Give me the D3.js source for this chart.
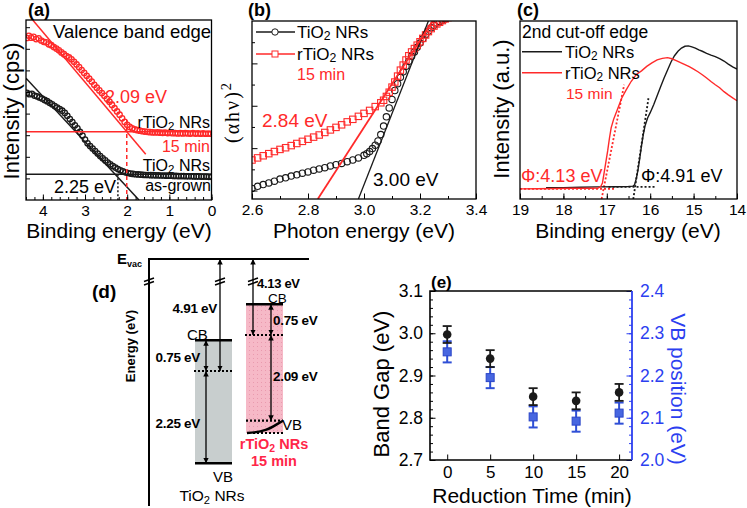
<!DOCTYPE html>
<html lang="en">
<head>
<meta charset="UTF-8">
<title>TiO2 NRs band structure</title>
<script src="https://cdn.jsdelivr.net/npm/d3@7"></script>
<style>
    body{margin:0;background:#fff;}
    svg{display:block;font-family:"Liberation Sans",Arial,sans-serif;}
</style>
</head>
<body>
<svg width="747" height="508"></svg>
<script>
// ---------- (a) valence band edge, [binding energy eV, intensity] ----------
var aRed = [[4.38,90.0],[4.33,91.2],[4.28,90.2],[4.22,90.6],[4.16,89.4],[4.10,89.8],[4.04,88.6],[3.98,87.9],[3.92,87.6],[3.86,86.5],
    [3.80,86.0],[3.74,85.0],[3.68,84.1],[3.62,83.2],[3.56,82.0],[3.50,81.0],[3.44,80.0],[3.38,79.2],[3.32,78.2],[3.26,76.8],
    [3.20,75.3],[3.14,73.8],[3.08,72.2],[3.02,70.6],[2.96,69.0],[2.90,67.4],[2.84,65.8],[2.78,64.0],[2.72,62.4],[2.66,60.9],
    [2.60,59.4],[2.54,57.9],[2.48,56.2],[2.42,54.6],[2.36,52.8],[2.30,51.0],[2.24,49.2],[2.18,47.4],[2.12,45.4],[2.06,43.4],
    [2.00,41.8],[1.94,40.6],[1.88,39.8],[1.82,39.2],[1.76,38.8],[1.70,38.5],[1.64,38.2],[1.58,38.0],[1.52,37.9],[1.46,37.7],
    [1.40,37.6],[1.34,37.5],[1.28,37.6],[1.22,37.4],[1.16,37.3],[1.10,37.4],[1.04,37.2],[0.98,37.3],[0.92,37.1],[0.86,37.2],
    [0.80,37.0],[0.74,37.1],[0.68,37.0],[0.62,37.2],[0.56,37.0],[0.50,36.9],[0.44,37.1],[0.38,36.9],[0.32,37.0],[0.26,36.8],
    [0.20,37.0],[0.14,36.8],[0.08,36.9],[0.02,36.8]];
var aBlack = [[4.38,59.5],[4.32,58.8],[4.26,59.0],[4.20,58.0],[4.14,57.6],[4.08,57.0],[4.02,56.4],[3.96,55.6],[3.90,54.9],[3.84,54.0],
    [3.78,53.2],[3.72,52.2],[3.66,51.4],[3.60,50.5],[3.54,49.6],[3.48,48.4],[3.42,46.8],[3.36,45.0],[3.30,43.3],[3.24,41.5],
    [3.18,39.8],[3.12,37.8],[3.06,35.8],[3.00,33.6],[2.94,31.5],[2.88,30.0],[2.82,28.6],[2.76,27.2],[2.70,25.8],[2.64,24.4],
    [2.58,23.2],[2.52,22.0],[2.46,20.8],[2.40,19.8],[2.34,18.9],[2.28,18.0],[2.22,17.2],[2.16,16.5],[2.10,15.9],[2.04,15.4],
    [1.98,15.0],[1.92,14.7],[1.86,14.5],[1.80,14.3],[1.74,14.2],[1.68,14.1],[1.62,14.0],[1.56,13.9],[1.50,13.9],[1.44,13.8],
    [1.38,13.8],[1.32,13.7],[1.26,13.7],[1.20,13.6],[1.14,13.6],[1.08,13.5],[1.02,13.5],[0.96,13.5],[0.90,13.4],[0.84,13.4],
    [0.78,13.3],[0.72,13.3],[0.66,13.3],[0.60,13.2],[0.54,13.2],[0.48,13.2],[0.42,13.1],[0.36,13.1],[0.30,13.1],[0.24,13.0],
    [0.18,13.0],[0.12,13.0],[0.06,12.9],[0.00,12.9]];
var aFitRed = [[4.24,100],[1.56,25.4]];
var aFitBlack = [[4.40,67.7],[1.72,0]];
var aBaseRed = 37.9, aBaseBlack = 14.3;
var aEdgeRed = [2.01, 44.4], aEdgeBlack = [2.22, 14.3];   // [energy, top of drop line]

// ---------- (b) Tauc plot, [photon energy eV, (ahv)^2] ----------
var bBlack = [[2.60,0.05],[2.62,0.10],[2.64,0.14],[2.66,0.18],[2.68,0.22],[2.70,0.27],[2.72,0.30],[2.74,0.34],[2.76,0.37],[2.78,0.41],
    [2.80,0.44],[2.82,0.48],[2.84,0.51],[2.86,0.54],[2.88,0.58],[2.90,0.61],[2.92,0.64],[2.94,0.68],[2.96,0.72],[2.98,0.77],
    [3.00,0.83],[3.01,0.87],[3.02,0.92],[3.03,0.99],[3.04,1.07],[3.05,1.17],[3.06,1.32],[3.07,1.52],[3.08,1.74],[3.09,1.95],
    [3.10,2.15],[3.11,2.36],[3.12,2.52],[3.13,2.67],[3.14,2.80],[3.15,2.93],[3.16,3.05],[3.17,3.17],[3.18,3.27],[3.19,3.38],
    [3.20,3.48],[3.21,3.58],[3.22,3.68],[3.23,3.76],[3.24,3.84],[3.25,3.90],[3.26,3.95],[3.27,3.99],[3.28,4.02],[3.29,4.05]];
var bRed = [[2.60,0.72],[2.62,0.77],[2.64,0.82],[2.66,0.87],[2.68,0.92],[2.70,0.97],[2.72,1.01],[2.74,1.06],[2.76,1.11],[2.78,1.16],
    [2.80,1.21],[2.82,1.26],[2.84,1.31],[2.86,1.37],[2.88,1.43],[2.90,1.49],[2.92,1.55],[2.94,1.62],[2.96,1.68],[2.98,1.75],
    [3.00,1.82],[3.02,1.89],[3.04,1.98],[3.06,2.07],[3.07,2.13],[3.08,2.22],[3.09,2.32],[3.10,2.44],[3.11,2.56],[3.12,2.70],
    [3.13,2.84],[3.14,2.96],[3.15,3.08],[3.16,3.18],[3.17,3.27],[3.18,3.35],[3.19,3.43],[3.20,3.51],[3.21,3.59],[3.22,3.67],
    [3.23,3.75],[3.24,3.82],[3.25,3.88],[3.26,3.93],[3.27,3.97],[3.28,4.01],[3.29,4.05],[3.30,4.08]];
var bFitBlack = [[2.98,-0.2],[3.23,4.0]];
var bFitRed = [[2.835,-0.2],[3.245,4.0]];

// ---------- (c) secondary cut-off, [binding energy eV, intensity] ----------
var cBlack = [[18.40,6.3],[18.00,6.4],[17.60,6.6],[17.20,6.8],[16.80,6.9],[16.50,7.0],[16.40,7.2],[16.36,8.0],[16.32,11.5],[16.28,16.5],
    [16.24,23.0],[16.20,30.0],[16.16,36.0],[16.12,41.0],[16.06,45.5],[16.00,48.5],[15.92,53.0],[15.84,58.0],[15.76,63.0],[15.68,68.0],
    [15.60,72.5],[15.52,77.0],[15.44,80.5],[15.36,83.0],[15.28,84.8],[15.20,85.8],[15.12,86.0],[15.04,85.5],[14.96,84.8],[14.88,83.8],
    [14.80,83.0],[14.70,81.8],[14.60,80.8],[14.50,80.0],[14.40,78.8],[14.30,77.5],[14.20,75.8],[14.10,74.2],[14.00,73.0]];
var cRed = [[19.00,5.7],[18.60,5.8],[18.20,5.9],[17.80,6.0],[17.40,6.0],[17.20,6.2],[17.14,7.0],[17.10,9.0],[17.06,15.0],[17.02,21.0],
    [16.98,27.0],[16.94,34.0],[16.90,40.0],[16.84,45.0],[16.76,50.0],[16.66,56.5],[16.56,61.0],[16.44,66.0],[16.32,70.0],[16.20,72.0],
    [16.08,74.5],[15.96,76.5],[15.84,78.2],[15.72,79.0],[15.60,79.4],[15.50,78.8],[15.40,77.8],[15.30,76.6],[15.20,75.5],[15.10,74.3],
    [15.00,73.0],[14.90,71.5],[14.80,69.8],[14.70,68.0],[14.60,66.0],[14.50,64.2],[14.40,62.5],[14.30,60.3],[14.20,58.5],[14.10,56.8],
    [14.00,55.2]];
var cFitRed = [[17.12,0],[16.60,64.2]], cBaseRed = [[19.0,5.7],[16.8,5.7]];
var cFitBlack = [[16.39,0],[16.04,56.6]], cBaseBlack = [[16.96,6.8],[15.89,6.8]];

// ---------- (d) energy diagram ----------
var dPhi = [4.91, 4.13];        // work function (E_vac - E_F)
var dCbAbove = [0.75, 0.75];    // CB above E_F
var dVbBelow = [2.25, 2.09];    // VB below E_F
var dTail = [0, 0.3];           // band tail below VB

// ---------- (e) band gap / VB position vs reduction time ----------
var eTime = [0, 5, 10, 15, 20];
var eGap = [2.997, 2.94, 2.85, 2.84, 2.86];
var eGapErr = [0.02, 0.02, 0.02, 0.02, 0.02];
var eVb = [2.256, 2.195, 2.102, 2.092, 2.111];
var eVbErr = [0.025, 0.025, 0.025, 0.025, 0.025];

var RED = "#ff2a2a", BLUE = "#2c3ff0", INK = "#1a1a1a";
var FONT = '"Liberation Sans", Arial, sans-serif';
var svg = d3.select("svg");
svg.append("rect").attr("width", 747).attr("height", 508).attr("fill", "#fff");
var defs = svg.append("defs");

// text with _x subscripts and ^x superscripts
function label(g, x, y, s, o) {
    o = o || {};
    var size = o.size || 16;
    var t = g.append("text").attr("x", x).attr("y", y)
        .attr("font-size", size).attr("fill", o.color || "#000")
        .attr("font-family", o.family || FONT)
        .attr("text-anchor", o.anchor || "start");
    if (o.bold) t.attr("font-weight", "bold");
    if (o.spacing) t.attr("letter-spacing", o.spacing);
    if (o.rotate) t.attr("transform", "rotate(" + o.rotate + "," + x + "," + y + ")");
    var shift = 0;
    s.split(/([_^](?:\{[^}]*\}|\S))/).forEach(function (p) {
        if (!p) return;
        var ts = t.append("tspan");
        if (p[0] === "_" || p[0] === "^") {
            var d = (p[0] === "_" ? (o.sub || 0.18) : -0.42) * size;
            ts.attr("font-size", size * (o.subScale || 0.72)).attr("dy", d - shift).text(p.slice(1).replace(/[{}]/g, ""));
            shift = d;
        } else {
            ts.attr("dy", -shift).text(p);
            shift = 0;
        }
    });
    return t;
}

// inward ticks, d3 axis
function axis(g, orient, scale, major, minor, at, fmt, o) {
    o = o || {};
    var mk = orient === "bottom" ? d3.axisBottom : orient === "left" ? d3.axisLeft : d3.axisRight;
    var col = o.color || "#000";
    if (minor) {
        var m = g.append("g").attr("transform", at)
            .call(mk(scale).tickValues(minor).tickSize(-(o.minor || 3)).tickFormat(""));
        m.select(".domain").remove();
        m.selectAll("line").attr("stroke", col);
    }
    var a = g.append("g").attr("transform", at)
        .call(mk(scale).tickValues(major).tickSize(-(o.major || 5.5)).tickPadding(o.pad || 5).tickFormat(fmt || ""));
    a.select(".domain").remove();
    a.selectAll("line").attr("stroke", col);
    a.selectAll("text").attr("fill", col).attr("font-size", o.size || 15.5).attr("font-family", FONT);
    return a;
}

function frame(g, x, y, id) {
    var r = [x.range()[0], x.range()[1], y.range()[1], y.range()[0]];
    defs.append("clipPath").attr("id", id).append("rect")
        .attr("x", r[0]).attr("y", r[2]).attr("width", r[1] - r[0]).attr("height", r[3] - r[2]);
    return g.append("g").attr("clip-path", "url(#" + id + ")");
}
function box(g, x, y) {
    g.append("rect").attr("x", x.range()[0]).attr("y", y.range()[1])
        .attr("width", x.range()[1] - x.range()[0]).attr("height", y.range()[0] - y.range()[1])
        .attr("fill", "none").attr("stroke", "#000").attr("stroke-width", 1.3);
}
function seg(g, x, y, pts, col, w, dash) {
    var l = g.append("line").attr("x1", x(pts[0][0])).attr("y1", y(pts[0][1]))
        .attr("x2", x(pts[1][0])).attr("y2", y(pts[1][1]))
        .attr("stroke", col).attr("stroke-width", w || 1.3);
    if (dash) l.attr("stroke-dasharray", dash);
    return l;
}

// ================= (a) =================
var xa = d3.scaleLinear().domain([4.4, 0]).range([26, 211.5]);
var ya = d3.scaleLinear().domain([0, 100]).range([200, 20]);
var ga = svg.append("g");
var pa = frame(ga, xa, ya, "clipA");
[[aRed, RED], [aBlack, INK]].forEach(function (s) {
    pa.append("g").selectAll("circle").data(s[0]).join("circle")
        .attr("cx", function (d) { return xa(d[0]); }).attr("cy", function (d) { return ya(d[1]); })
        .attr("r", 2.7).attr("fill", "none").attr("stroke", s[1]).attr("stroke-width", 1.3);
});
seg(pa, xa, ya, aFitRed, RED, 1.5);
seg(pa, xa, ya, aFitBlack, INK, 1.5);
seg(pa, xa, ya, [[4.4, aBaseRed], [0, aBaseRed]], RED, 1.5);
seg(pa, xa, ya, [[4.4, aBaseBlack], [0, aBaseBlack]], INK, 1.3);
seg(pa, xa, ya, [[aEdgeRed[0], aEdgeRed[1]], [aEdgeRed[0], 0]], RED, 1.5, "4,3");
seg(pa, xa, ya, [[aEdgeBlack[0], aEdgeBlack[1]], [aEdgeBlack[0], 0]], INK, 1.5, "2,2");
axis(ga, "bottom", xa, [0, 1, 2, 3, 4], d3.range(0, 4.41, 0.2), "translate(0,200)", d3.format("d"));
axis(ga, "left", ya, [], d3.range(12, 100, 12), "translate(26,0)", null, {minor: 4});
box(ga, xa, ya);
label(ga, 28, 16, "(a)", {size: 18, bold: true});
label(ga, 53, 38, "Valence band edge", {size: 18.5});
label(ga, 105, 103, "2.09 eV", {size: 18, color: RED});
label(ga, 210, 128, "rTiO_2 NRs", {size: 16, anchor: "end", sub: 0.12});
label(ga, 210, 152, "15 min", {size: 16, anchor: "end", color: RED});
label(ga, 210, 171, "TiO_2 NRs", {size: 16, anchor: "end", sub: 0.12});
label(ga, 54, 193, "2.25 eV", {size: 18});
label(ga, 211, 191, "as-grown", {size: 16, anchor: "end"});
label(ga, 119, 238, "Binding energy (eV)", {size: 21, anchor: "middle"});
label(ga, 19, 111, "Intensity (cps)", {size: 22, anchor: "middle", rotate: -90});

// ================= (b) =================
var xb = d3.scaleLinear().domain([2.6, 3.4]).range([252, 476]);
var yb = d3.scaleLinear().domain([-0.2, 4.0]).range([199, 21]);
var gb = svg.append("g");
var pb = frame(gb, xb, yb, "clipB");
pb.append("g").selectAll("circle").data(bBlack).join("circle")
    .attr("cx", function (d) { return xb(d[0]); }).attr("cy", function (d) { return yb(d[1]); })
    .attr("r", 3.2).attr("fill", "none").attr("stroke", INK).attr("stroke-width", 1.1);
pb.append("g").selectAll("rect").data(bRed).join("rect")
    .attr("x", function (d) { return xb(d[0]) - 3.2; }).attr("y", function (d) { return yb(d[1]) - 3.2; })
    .attr("width", 6.4).attr("height", 6.4).attr("fill", "none").attr("stroke", RED).attr("stroke-width", 1.1);
seg(pb, xb, yb, bFitBlack, INK, 1.3);
seg(pb, xb, yb, bFitRed, RED, 1.8);
axis(gb, "bottom", xb, [2.6, 2.8, 3.0, 3.2, 3.4], d3.range(2.6, 3.41, 0.1), "translate(0,199)", d3.format(".1f"));
axis(gb, "left", yb, [0, 1, 2, 3], [0.5, 1.5, 2.5, 3.5], "translate(252,0)", null);
box(gb, xb, yb);
// legend
[[32, INK, "circle", "TiO_2 NRs"], [54, RED, "square", "rTiO_2 NRs"]].forEach(function (l) {
    gb.append("line").attr("x1", 256).attr("x2", 295).attr("y1", l[0]).attr("y2", l[0])
        .attr("stroke", l[1]).attr("stroke-width", 1.3);
    if (l[2] === "circle")
        gb.append("circle").attr("cx", 275).attr("cy", l[0]).attr("r", 3.2)
            .attr("fill", "#fff").attr("stroke", l[1]);
    else
        gb.append("rect").attr("x", 272).attr("y", l[0] - 3).attr("width", 6).attr("height", 6)
            .attr("fill", "#fff").attr("stroke", l[1]);
    label(gb, 297, l[0] + 6, l[3], {size: 17, sub: 0.12});
});
label(gb, 297, 80, "15 min", {size: 16, color: RED});
label(gb, 262, 127, "2.84 eV", {size: 19, color: RED});
label(gb, 373, 186, "3.00 eV", {size: 19});
label(gb, 364, 238, "Photon energy (eV)", {size: 21, anchor: "middle"});
label(gb, 239, 112, "(\u03b1h\u03bd)^2", {size: 20, anchor: "middle", rotate: -90,
    family: '"Liberation Serif", "DejaVu Serif", serif', spacing: 2});
label(gb, 248, 16, "(b)", {size: 18, bold: true});

// ================= (c) =================
var xc = d3.scaleLinear().domain([19, 14]).range([520, 737]);
var yc = d3.scaleLinear().domain([0, 100]).range([199, 21]);
var gc = svg.append("g");
var pc = frame(gc, xc, yc, "clipC");
var lineC = d3.line().x(function (d) { return xc(d[0]); }).y(function (d) { return yc(d[1]); });
seg(pc, xc, yc, cBaseRed, RED, 1.8, "2,2");
seg(pc, xc, yc, cFitRed, RED, 1.8, "2,2");
seg(pc, xc, yc, cBaseBlack, INK, 1.8, "2,2");
seg(pc, xc, yc, cFitBlack, INK, 1.8, "2,2");
pc.append("path").attr("d", lineC(cBlack)).attr("fill", "none").attr("stroke", INK).attr("stroke-width", 1.4);
pc.append("path").attr("d", lineC(cRed)).attr("fill", "none").attr("stroke", RED).attr("stroke-width", 1.4);
axis(gc, "bottom", xc, [19, 18, 17, 16, 15, 14], d3.range(14, 19.01, 0.5), "translate(0,199)", d3.format("d"));
box(gc, xc, yc);
label(gc, 517, 16, "(c)", {size: 18, bold: true});
label(gc, 522, 38, "2nd cut-off edge", {size: 17.5});
[[51.7, INK, "TiO_2 NRs"], [72.8, RED, "rTiO_2 NRs"]].forEach(function (l) {
    gc.append("line").attr("x1", 522).attr("x2", 562).attr("y1", l[0]).attr("y2", l[0])
        .attr("stroke", l[1]).attr("stroke-width", 1.4);
    label(gc, 565, l[0] + 6.2, l[2], {size: 16.5, sub: 0.1});
});
label(gc, 566, 99, "15 min", {size: 15.5, color: RED});
label(gc, 521, 181.5, "\u03a6:4.13 eV", {size: 18, color: RED});
label(gc, 641, 181.5, "\u03a6:4.91 eV", {size: 18});
label(gc, 628, 238, "Binding energy (eV)", {size: 21, anchor: "middle"});
label(gc, 509, 109, "Intensity (a.u.)", {size: 22, anchor: "middle", rotate: -90});

// ================= (d) =================
var gd = svg.append("g");
var vacY = 259;
var efY = d3.scaleLinear().domain([4.13, 4.91]).range([335, 371]);   // E_F below the break
var evPx = d3.scaleLinear().domain([0, 1]).range([0, 41]);
var colX = [195, 246], colW = 37;
var vacArrowX = [220, 253], gapArrowX = [206, 271];
var pat = defs.append("pattern").attr("id", "pinkDots").attr("patternUnits", "userSpaceOnUse")
    .attr("width", 4).attr("height", 4);
pat.append("rect").attr("width", 4).attr("height", 4).attr("fill", "#f6b9c7");
pat.append("rect").attr("x", 1).attr("y", 2).attr("width", 1).attr("height", 1).attr("fill", "#e99aae");
defs.append("marker").attr("id", "ah").attr("viewBox", "0 0 10 10").attr("refX", 10).attr("refY", 5)
    .attr("markerWidth", 5.5).attr("markerHeight", 6.5).attr("markerUnits", "userSpaceOnUse")
    .attr("orient", "auto-start-reverse")
    .append("path").attr("d", "M0,0L10,5L0,10z").attr("fill", "#000");

function hline(x1, x2, y, w, dash) {
    var l = gd.append("line").attr("x1", x1).attr("x2", x2).attr("y1", y).attr("y2", y)
        .attr("stroke", "#000").attr("stroke-width", w);
    if (dash) l.attr("stroke-dasharray", dash);
}
function arrow(x, y1, y2) {
    gd.append("line").attr("x1", x).attr("x2", x).attr("y1", y1).attr("y2", y2)
        .attr("stroke", "#000").attr("stroke-width", 1.3)
        .attr("marker-start", "url(#ah)").attr("marker-end", "url(#ah)");
}
function brk(x, y) {
    [0, 3.5].forEach(function (o) {
        gd.append("line").attr("x1", x - 5).attr("y1", y + o + 1.5).attr("x2", x + 5).attr("y2", y + o - 2)
            .attr("stroke", "#000").attr("stroke-width", 1.5);
    });
}

dPhi.forEach(function (phi, i) {
    var ef = efY(phi), cb = ef - evPx(dCbAbove[i]), vb = ef + evPx(dVbBelow[i]), tail = vb + evPx(dTail[i]);
    var x0 = colX[i], x1 = colX[i] + colW;
    gd.append("rect").attr("x", x0).attr("y", cb).attr("width", colW).attr("height", tail - cb)
        .attr("fill", i === 0 ? "#c8cece" : "url(#pinkDots)");
    hline(x0, x1, cb, 2.4);
    hline(x0 - 1, x1, ef, 2.2, "2,2");
    if (dTail[i] > 0) {
        hline(x0, x1, vb, 2.2, "2,2");
        hline(x0 + 7, x1, tail, 2.2, "2,2");
        gd.append("path").attr("d", "M" + (x0 + 1) + "," + tail + " C" + (x0 + 22) + "," + (tail - 1) + " " +
            (x0 + 26) + "," + (vb + 6) + " " + x1 + "," + vb)
            .attr("fill", "none").attr("stroke", "#000").attr("stroke-width", 2.4);
    } else {
        hline(x0, x1, vb, 2.4);
    }
    arrow(vacArrowX[i], vacY, ef);
    brk(vacArrowX[i], 280);
    arrow(gapArrowX[i], cb, ef);
    arrow(gapArrowX[i], ef, vb);
});
hline(148, 309, vacY, 2.2);
gd.append("line").attr("x1", 149).attr("x2", 149).attr("y1", vacY).attr("y2", 506)
    .attr("stroke", "#000").attr("stroke-width", 2);
brk(149, 280);
label(gd, 117, 264, "E_{vac}", {size: 15, bold: true, sub: 0.22, subScale: 0.6});
label(gd, 92, 298, "(d)", {size: 19, bold: true});
label(gd, 135, 346, "Energy (eV)", {size: 13, bold: true, anchor: "middle", rotate: -90});
label(gd, 217, 313, "4.91 eV", {size: 13.5, bold: true, anchor: "end", spacing: -0.3});
label(gd, 187, 340, "CB", {size: 15});
label(gd, 200, 362, "0.75 eV", {size: 13.5, bold: true, anchor: "end", spacing: -0.3});
label(gd, 200, 428, "2.25 eV", {size: 13.5, bold: true, anchor: "end", spacing: -0.3});
label(gd, 213, 482, "VB", {size: 15});
label(gd, 212, 501, "TiO_2 NRs", {size: 15.5, anchor: "middle"});
label(gd, 257, 288, "4.13 eV", {size: 13, bold: true, spacing: -0.3});
label(gd, 268, 303, "CB", {size: 13.5});
label(gd, 273, 325, "0.75 eV", {size: 13.5, bold: true, spacing: -0.3});
label(gd, 273, 381, "2.09 eV", {size: 13.5, bold: true, spacing: -0.3});
label(gd, 282, 430, "VB", {size: 15});
label(gd, 274, 449, "rTiO_2 NRs", {size: 14.5, bold: true, anchor: "middle", color: "#ff2648"});
label(gd, 274, 466, "15 min", {size: 14.5, bold: true, anchor: "middle", color: "#ff2648"});

// ================= (e) =================
var xe = d3.scaleLinear().domain([-2, 21.5]).range([430, 632]);
var yeL = d3.scaleLinear().domain([2.7, 3.1]).range([460, 291]);
var yeR = d3.scaleLinear().domain([2.0, 2.4]).range([460, 291]);
var ge = svg.append("g");
axis(ge, "bottom", xe, eTime, null, "translate(0,460)", d3.format("d"), {size: 17, pad: 6});
axis(ge, "left", yeL, [2.7, 2.8, 2.9, 3.0, 3.1], d3.range(2.7, 3.1, 0.02), "translate(430,0)", d3.format(".1f"), {size: 17.5, pad: 7});
axis(ge, "right", yeR, [2.0, 2.1, 2.2, 2.3, 2.4], d3.range(2.0, 2.4, 0.02), "translate(632,0)", d3.format(".1f"), {size: 17.5, pad: 8, color: BLUE});
ge.append("path").attr("d", "M632,291H430V460H632").attr("fill", "none").attr("stroke", "#000").attr("stroke-width", 1.6);
ge.append("line").attr("x1", 632).attr("x2", 632).attr("y1", 291).attr("y2", 460).attr("stroke", BLUE).attr("stroke-width", 1.8);

function errBars(vals, errs, y, col, w) {
    var g = ge.append("g").attr("stroke", col).attr("stroke-width", w);
    eTime.forEach(function (t, i) {
        var x = xe(t), lo = y(vals[i] - errs[i]), hi = y(vals[i] + errs[i]);
        g.append("line").attr("x1", x).attr("x2", x).attr("y1", lo).attr("y2", hi);
        g.append("line").attr("x1", x - 4.5).attr("x2", x + 4.5).attr("y1", lo).attr("y2", lo);
        g.append("line").attr("x1", x - 4.5).attr("x2", x + 4.5).attr("y1", hi).attr("y2", hi);
    });
}
errBars(eVb, eVbErr, yeR, "#2f4fd6", 2);
errBars(eGap, eGapErr, yeL, INK, 1.8);
ge.append("g").selectAll("rect").data(eVb).join("rect")
    .attr("x", function (d, i) { return xe(eTime[i]) - 4; }).attr("y", function (d) { return yeR(d) - 4; })
    .attr("width", 8).attr("height", 8).attr("fill", "#4766e0").attr("stroke", "#2a45c8").attr("stroke-width", 1);
ge.append("g").selectAll("circle").data(eGap).join("circle")
    .attr("cx", function (d, i) { return xe(eTime[i]); }).attr("cy", function (d) { return yeL(d); })
    .attr("r", 4.3).attr("fill", INK);
label(ge, 431, 288, "(e)", {size: 17, bold: true});
label(ge, 389, 384, "Band Gap (eV)", {size: 22, anchor: "middle", rotate: -90});
label(ge, 671, 389, "VB position (eV)", {size: 21, anchor: "middle", rotate: 90, color: BLUE});
label(ge, 532, 503, "Reduction Time (min)", {size: 21, anchor: "middle"});
</script>
</body>
</html>
